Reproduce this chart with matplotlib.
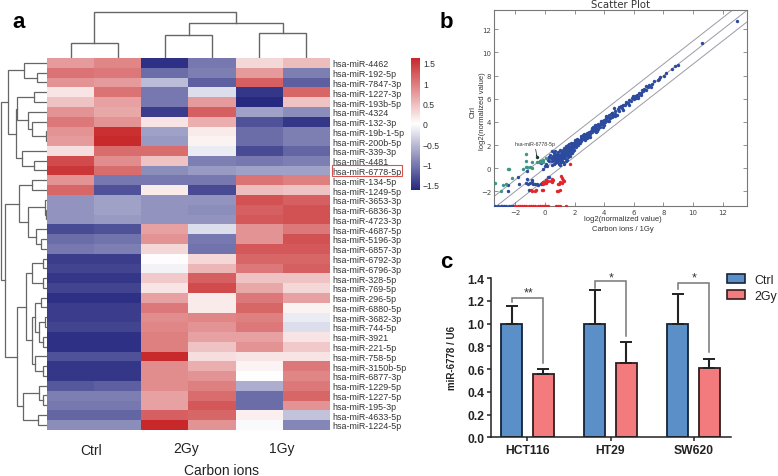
import matplotlib
matplotlib.use("Agg")
import matplotlib.pyplot as plt
import numpy as np
from matplotlib.colors import LinearSegmentedColormap
from matplotlib.patches import Rectangle, Patch

# ---------- data: panel a ----------
mirnas = ["hsa-miR-4462","hsa-miR-192-5p","hsa-miR-7847-3p","hsa-miR-1227-3p","hsa-miR-193b-5p",
          "hsa-miR-4324","hsa-miR-132-3p","hsa-miR-19b-1-5p","hsa-miR-200b-5p","hsa-miR-339-3p",
          "hsa-miR-4481","hsa-miR-6778-5p","hsa-miR-134-5p","hsa-miR-1249-5p","hsa-miR-3653-3p",
          "hsa-miR-6836-3p","hsa-miR-4723-3p","hsa-miR-4687-5p","hsa-miR-5196-3p","hsa-miR-6857-3p",
          "hsa-miR-6792-3p","hsa-miR-6796-3p","hsa-miR-328-5p","hsa-miR-769-5p","hsa-miR-296-5p",
          "hsa-miR-6880-5p","hsa-miR-3682-3p","hsa-miR-744-5p","hsa-miR-3921","hsa-miR-221-5p",
          "hsa-miR-758-5p","hsa-miR-3150b-5p","hsa-miR-6877-3p","hsa-miR-1229-5p","hsa-miR-1227-5p",
          "hsa-miR-195-3p","hsa-miR-4633-5p","hsa-miR-1224-5p"]
expr = [
 [.75,.9,-1.55,-1.0,.3,.5],[1.05,1.0,-1.1,-.95,.75,-.95],[.8,.75,-.5,-1.2,1.2,-1.2],
 [.2,1.05,-1.0,-.25,-1.5,1.15],[.45,.7,-1.0,.75,-1.6,.45],[.8,.65,-1.45,1.2,-.7,-.85],
 [1.0,.8,.2,.6,-1.3,-1.5],[.8,1.55,-.7,.15,-1.1,-.95],[.75,1.6,-.75,.1,-1.1,-.95],
 [.25,1.1,1.1,-.15,-1.35,-1.15],[1.35,.85,.45,-.95,-1.0,-.95],[1.5,1.1,-.85,-.75,-.7,-.7],
 [.8,-1.0,-1.0,-1.0,1.05,.95],[1.15,-1.3,.15,-1.35,.5,.45],[-.8,-.7,-.8,-.8,1.3,1.2],
 [-.8,-.7,-.8,-.85,1.2,1.3],[-.8,-.75,-.8,-.8,1.25,1.3],[-1.35,-1.3,.7,-.25,.8,1.0],
 [-1.1,-1.05,.8,-1.0,.8,1.3],[-1.0,-.95,.3,-1.05,1.25,1.25],[-1.45,-1.45,.02,.3,1.15,1.15],
 [-1.4,-1.4,-.1,.55,1.0,1.2],[-1.5,-1.5,.4,1.2,.45,.45],[-1.4,-1.4,.2,1.35,.65,.3],
 [-1.55,-1.55,.7,.15,1.0,.7],[-1.45,-1.45,1.0,.15,1.15,.1],[-1.45,-1.45,.85,.9,.95,-.15],
 [-1.4,-1.4,.9,.8,1.0,-.25],[-1.55,-1.55,.95,.7,.7,.2],[-1.55,-1.55,.95,.45,.8,.4],
 [-1.3,-1.3,1.6,.25,.2,.2],[-1.5,-1.5,.85,.6,.08,1.0],[-1.5,-1.5,.85,.8,0,.9],
 [-1.25,-1.2,.85,.95,-.6,1.0],[-.95,-.95,.7,1.1,-1.1,1.15],[-1.0,-1.0,.7,1.25,-1.1,.8],
 [-1.15,-1.15,1.2,1.15,.12,-.45],[-.85,-.85,1.65,.8,-.03,-.9]]
cbar_ticks = [1.5,1,.5,0,-.5,-1,-1.5]
cbar_labels = ["1.5","1","0.5","0","\u22120.5","\u22121","\u22121.5"]
group_names = ["Ctrl","2Gy","1Gy"]
# dendrograms: (merge height, left child, right child), integers are leaves
col_tree = (46.3,(14.7,0,1),(35.3,(22.7,2,3),(24.7,4,5)))
row_top = (39,(22.7,0,(10,1,2)),
           (30.8,(30.3,(13.3,3,4),(19.3,5,(14.7,6,(1,7,8)))),(24.7,9,(13.3,10,11))))
row_mid = (28,(15.3,12,13),(18.7,(2,14,(1.3,15,16)),(11,17,(6.3,18,19))))
row_low = (29.7,
           (21,(14.7,(4.3,20,21),(4.3,22,23)),
            (15.3,(12,(6.3,24,25),(8,(2,26,27),(3.7,28,29))),(12,30,(3.7,31,32)))),
           (23.7,(7.7,33,(3.7,34,35)),(9.3,36,37)))
row_tree = (46,row_top,(41.7,row_mid,row_low))

# ---------- data: panel b ----------
diag_pts = [(12.95,12.75),(10.6,10.85),(8.95,8.95),(8.75,8.8),(8.55,8.55),(8.15,8.2),(8.05,8.0),(7.8,7.85),(7.7,7.75),(7.6,7.65),
 (7.35,7.55),(7.2,7.3),(7.05,7.15),(6.95,7.0),(6.8,7.1),(6.7,6.85),(6.6,6.7),(6.5,6.5),(6.45,6.35),(6.35,6.5),(6.3,6.2),(6.2,6.35),
 (6.15,6.05),(6.05,6.2),(6.0,5.95),(5.9,6.05),(5.8,5.85),(5.7,5.9),(5.6,5.6),(5.5,5.7),(5.4,5.45),(5.3,5.5),(5.2,5.2),(5.1,5.4),
 (5.0,4.95),(4.95,5.1),(4.85,4.6),(4.75,4.95),(4.7,4.7),(4.65,5.2),(4.6,4.55),(4.55,4.8),(4.5,4.4),(4.45,4.65),(4.4,4.35),
 (4.35,4.6),(4.3,4.3),(4.25,4.1),(4.2,4.45),(4.15,4.2),(4.1,4.3),(4.05,3.95),(4.0,4.15),(3.95,4.0),(3.9,3.8),(3.85,4.1),(3.8,3.85),
 (3.75,3.95),(3.7,3.6),(3.65,3.75),(3.6,3.85),(3.55,3.5),(3.5,3.7),(3.45,3.4),(3.4,3.6),(3.35,3.25),(3.3,3.5),(3.25,3.3),(3.2,3.4),
 (3.15,3.1),(3.1,3.25),(3.05,2.95),(3.0,3.15),(2.95,3.0),(2.9,2.8),(2.85,3.05),(2.8,2.85),(2.75,2.7),(2.7,2.9),(2.65,2.6),(2.6,2.75),
 (2.55,2.5),(2.5,2.7),(2.45,2.35),(2.4,2.6),(2.35,2.45),(2.3,2.2),(2.25,2.4),(2.2,2.3),(2.15,2.05),(2.1,2.35),(2.05,2.15),(2.0,1.95),
 (2.0,2.3),(1.95,2.1),(1.9,1.75),(1.9,2.2),(1.85,2.0),(1.8,1.7),(1.8,1.95),(1.75,2.15),(1.7,1.6),(1.7,1.85),(1.65,2.05),(1.6,1.45),
 (1.6,1.8),(1.55,1.65),(1.55,2.0),(1.5,1.3),(1.5,1.55),(1.5,1.85),(1.45,1.7),(1.4,1.15),(1.4,1.45),(1.4,1.9),(1.35,1.6),(1.3,1.05),
 (1.3,1.35),(1.3,1.75),(1.25,1.5),(1.2,.85),(1.2,1.2),(1.2,1.6),(1.15,1.4),(1.1,.7),(1.1,1.05),(1.1,1.45),(1.05,1.25),(1.0,.3),
 (1.0,.9),(1.0,1.6),(.95,1.15),(.9,.6),(.9,.8),(.9,1.4),(.85,1.05),(.8,.5),(.8,.95),(.8,1.25),(.75,.75),(.7,.45),(.7,1.5),(.7,1.1),
 (.65,.9),(.6,.35),(.6,.7),(.6,1.3),(.55,1.05),(.5,.85),(.5,1.45),(.45,.6),(.4,.9),(.35,1.15),(.3,.6),(.3,1.0),(.2,.7),(.1,.35),(0,.2),
 (1.3,.4),(1.4,.6),(1.5,.7),(1.55,.95),(1.65,1.15),(1.75,1.3),(1.25,.55),(1.15,.65),(-.1,-.05),(-1.2,-.2),(2.15,2.55),(2.45,2.8),(3.25,3.55),(3.05,2.7),(2.7,2.45),
 (-.25,.45),(.15,.15),(.25,.95),(.45,.3),(1.85,1.55),(2.25,2.0),(3.6,3.35),(4.0,3.75),
 (2.55,2.85),(2.85,2.6),(3.35,3.7),(3.5,3.25),(3.75,4.1),(3.9,3.6),(4.15,4.5),(4.3,4.05),(4.5,4.75),(4.75,4.5),(5.0,5.3),(5.25,5.0),
 (5.45,5.65),(5.65,5.45),(5.95,6.2),(6.25,6.05),(6.55,6.75),(6.85,6.75),(7.15,7.0),(1.95,1.6),(2.05,2.45),(2.35,2.15),(2.65,2.95),
 (2.95,2.7),(3.15,3.45),(3.45,3.15),(1.6,1.2),(1.7,1.05),(1.8,1.35),(1.9,1.45),(2.1,1.8),(1.35,.85),(1.25,.95),(1.05,.55),(.95,.4)]
low_blue = [(-2.5,-1.45),(-2.5,-1.95),(-1.85,-.8),(-1.75,-1.4),(-1.3,-1.3),(-1.2,-.95),(-1.15,-1.35),(-1.1,-1.9),(-1.0,-1.3),
 (-.9,-1.0),(-.85,-1.2),(-.8,-1.4),(-.7,-1.35),(-.55,-1.35),(-.45,-1.45),(-.3,-1.35),(-.2,-1.25),(.1,-1.0),(.2,-.8),(.3,-.75)]
green_pts = [(-3.4,-1.25),(-3.0,-1.95),(-2.8,-1.45),(-2.65,-1.4),(-2.5,-.1),(-2.45,-.05),(-2.25,-.85),(-1.3,1.25),(-1.25,.65),
 (-1.3,.1),(-1.45,-.1),(-1.2,.1),(-1.0,.1),(-.9,.05),(-.55,.55),(-.4,.55),(-.2,.55),(-.3,.6),(-.1,.7),(.1,.9),(-.35,.65),(-.15,.5),(-.9,.5)]
red_pts = [(1.7,.4),(1.1,-.65),(1.15,-.85),(1.25,-1.0),(1.3,-1.1),(1.15,-1.3),(1.0,-1.2),(.95,-1.35),(.9,-1.4),(.8,-1.95),(.9,-1.95),
 (1.0,-1.9),(.45,-.9),(.4,-1.1),(.5,-1.15),(.55,-1.05),(.2,-1.1),(.1,-1.3),(0,-1.3),(-.1,-1.4),(-.1,-1.2),(0,-1.15),(.05,-1.05),
 (-.6,-1.9),(-.7,-1.95),(-.85,-1.95),(-.95,-1.9),(-.2,-1.9),(-.1,-1.85)]
floor_value = -3.24
floor_blue_x = [-3.4,-3.2,-3.0,-2.9,-2.75,-2.6,-2.45,-2.3,-2.15]
floor_red_x = [-2.0,-1.85,-1.7,-1.55,-1.4,-1.25,-1.1,-.95,-.8,-.65,-.5,-.35,-.2,-.05,.1,.2,.75,.85,1.0,1.4]
target_point = (-.55,1.0)
fold_offsets = [-1,0,1]

# ---------- data: panel c ----------
cell_lines = ["HCT116","HT29","SW620"]
ctrl_vals = [1.0,1.0,1.0]
gy2_vals = [.56,.65,.61]
ctrl_err = [.155,.295,.26]
gy2_err = [.04,.185,.08]
bracket_left = [1.19,1.31,1.30]
bracket_top = [1.227,1.37,1.356]
bracket_right = [.653,.893,.747]
stars = ["**","*","*"]
star_y = [1.275,1.405,1.405]

W,H = 778,477
plt.rcParams["font.family"] = ["Liberation Sans","DejaVu Sans"]
fig = plt.figure(figsize=(W/100,H/100),dpi=100)

def ax_px(l,t,r,b):
    return fig.add_axes([l/W,1-b/H,(r-l)/W,(b-t)/H])
def ftext(x,y,s,**k):
    return fig.text(x/W,1-y/H,s,**k)

# panel a
cmap = LinearSegmentedColormap.from_list("bwr2",["#25287f","#ffffff","#c8282a"])
ax = ax_px(47,59,330,430.7)
im = ax.imshow(np.array(expr),aspect="auto",cmap=cmap,vmin=-1.62,vmax=1.62,interpolation="nearest")
ax.set_xticks([])
ax.set_yticks(range(len(mirnas)))
ax.set_yticklabels(mirnas,fontsize=6.4,color="#333333")
ax.yaxis.tick_right()
ax.tick_params(axis="y",length=0,pad=2)
for s in ax.spines.values():
    s.set_visible(False)

def draw_tree(a,node,vertical,color,lw):
    if isinstance(node,int):
        return node+.5,0
    h,l,r = node
    pl,hl = draw_tree(a,l,vertical,color,lw)
    pr,hr = draw_tree(a,r,vertical,color,lw)
    if vertical:
        a.plot([pl,pl,pr,pr],[hl,h,h,hr],color=color,lw=lw,solid_joinstyle="miter")
    else:
        a.plot([hl,h,h,hr],[pl,pl,pr,pr],color=color,lw=lw,solid_joinstyle="miter")
    return (pl+pr)/2,h

at = ax_px(47,0,330,59)
at.set_xlim(0,6); at.set_ylim(0,59); at.axis("off")
draw_tree(at,col_tree,True,"#666666",1.0)
al = ax_px(0,59,47,430.7)
al.set_xlim(47,0); al.set_ylim(38,0); al.axis("off")
draw_tree(al,row_tree,False,"#666666",.9)

cax = ax_px(411,59,420,190.7)
cb = fig.colorbar(im,cax=cax)
cb.set_ticks(cbar_ticks); cb.set_ticklabels(cbar_labels)
cb.ax.tick_params(length=0,pad=2.2,labelsize=6.2,labelcolor="#333333")
cb.outline.set_visible(False)
fig.add_artist(Rectangle((332/W,1-177.3/H),69.7/W,11/H,transform=fig.transFigure,fill=False,ec="#d9534f",lw=.8))
for name,x,y in zip(group_names,[91,186,282],[451,449,449]):
    ftext(x,y,name,fontsize=10,ha="center",va="center",color="#222222")
ftext(221.7,471.5,"Carbon ions",fontsize=10,ha="center",va="center",color="#222222")
ftext(12,28,"a",fontsize=16,fontweight="bold",va="baseline")

# panel b
ab = ax_px(494.3,11,747.3,206.7)
xl = (-3.42,13.66); yl = (-3.24,13.67)
for off in fold_offsets:
    xs = np.array(xl)
    ab.plot(xs,xs+off,color="#9a9aa8",lw=.7,zorder=1)
def scat(pts,c):
    p = np.array(pts)
    ab.scatter(p[:,0],p[:,1],s=6,c=c,linewidths=0,zorder=3)
scat(diag_pts,"#2c4a9e"); scat(low_blue,"#2c4a9e")
scat(green_pts,"#3f9583"); scat(red_pts,"#e0252b")
ab.scatter(floor_blue_x,[floor_value]*len(floor_blue_x),s=6,c="#2c4a9e",linewidths=0,zorder=3)
ab.scatter(floor_red_x,[floor_value]*len(floor_red_x),s=6,c="#e0252b",linewidths=0,zorder=3)
ab.scatter(*target_point,s=6,c="#1d3b33",linewidths=0,zorder=4)
ab.annotate("hsa-miR-6778-5p",xy=target_point,xytext=(-.68,2.1),fontsize=3.8,ha="center",va="center",color="#333333",
            arrowprops=dict(arrowstyle="-|>,head_width=.08,head_length=.15",lw=.5,color="#222222",shrinkA=0,shrinkB=0))
ab.set_xlim(*xl); ab.set_ylim(*yl)
ab.set_xticks(range(-2,13,2)); ab.set_yticks(range(-2,13,2))
ab.set_xticklabels(["\u22122","0","2","4","6","8","10","12"])
ab.set_yticklabels(["\u22122","0","2","4","6","8","10","12"])
ab.tick_params(direction="in",top=True,right=True,length=3,width=.5,color="#666666",labelsize=5,
               labelcolor="#444444",pad=2.2)
for lab in ab.get_xticklabels()+ab.get_yticklabels():
    lab.set_family("DejaVu Sans")
for s in ab.spines.values():
    s.set_color("#777777"); s.set_linewidth(.8)
ftext(620.8,5,"Scatter Plot",fontsize=7.3,family="DejaVu Sans",ha="center",va="center",color="#333333")
ftext(623.3,219.6,"log2(normalized value)",fontsize=5.5,ha="center",va="center",color="#333333")
ftext(623.3,230,"Carbon ions / 1Gy",fontsize=5.5,ha="center",va="center",color="#333333")
ftext(482.7,111,"log2(normalized value)",fontsize=5.5,rotation=90,ha="center",va="center",color="#333333")
ftext(473.5,111.5,"Ctrl",fontsize=5.5,rotation=90,ha="center",va="center",color="#333333")
ftext(440,28,"b",fontsize=16,fontweight="bold",va="baseline")

# panel c
ac = ax_px(490.7,279,731.3,438.3)
pos = np.arange(len(cell_lines))
off,bw = .1887,.2524
ebk = dict(lw=1.5,capsize=4.2,capthick=1.4)
ac.bar(pos-off,ctrl_vals,bw,color="#5b8fc7",edgecolor="#14233a",linewidth=1.3,zorder=2,
       yerr=[[0]*3,ctrl_err],error_kw=dict(ecolor="#222222",**ebk))
ac.bar(pos+off,gy2_vals,bw,color="#f37b7d",edgecolor="#331c1c",linewidth=1.3,zorder=2,
       yerr=[[0]*3,gy2_err],error_kw=dict(ecolor="#222222",**ebk))
for i in pos:
    ac.plot([i-off,i-off,i+off,i+off],[bracket_left[i],bracket_top[i],bracket_top[i],bracket_right[i]],
            color="#777777",lw=1.1,zorder=3,solid_joinstyle="miter")
    ac.text(i+.01,star_y[i],stars[i],fontsize=9,ha="center",va="center",color="#333333")
ac.set_xlim(-.44,2.452); ac.set_ylim(0,1.4)
ac.set_xticks(pos); ac.set_xticklabels(cell_lines,fontsize=8.7,fontweight="bold",color="#222222")
ac.set_yticks(np.arange(0,1.41,.2))
ac.set_yticklabels(["%.1f"%v for v in np.arange(0,1.41,.2)],fontsize=8.7,fontweight="bold",color="#222222")
ac.tick_params(length=3,width=1.1,color="#222222",pad=1.5)
for s in ["top","right"]:
    ac.spines[s].set_visible(False)
for s in ["left","bottom"]:
    ac.spines[s].set_linewidth(1.1); ac.spines[s].set_color("#222222")
ftext(451.7,358,"miR-6778 / U6",fontsize=7,fontweight="bold",rotation=90,ha="center",va="center",color="#222222")
ftext(440,268.3,"c",fontsize=16,fontweight="bold",va="baseline")
fig.legend(handles=[Patch(fc="#5b8fc7",ec="#14233a",lw=1.2,label="Ctrl"),Patch(fc="#f37b7d",ec="#331c1c",lw=1.2,label="2Gy")],
           loc="upper left",bbox_to_anchor=(726.7/W,1-275/H),frameon=False,fontsize=8.9,borderpad=0,borderaxespad=0,
           handlelength=1.45,handleheight=.73,handletextpad=.75,labelspacing=.33,labelcolor="#222222")

fig.savefig("out.png",dpi=100)
